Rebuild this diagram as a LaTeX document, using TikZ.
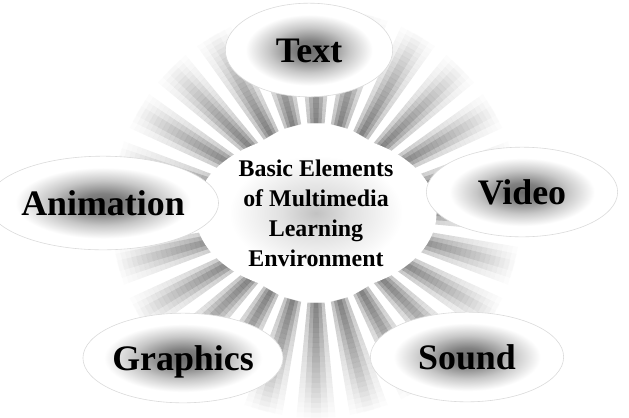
\documentclass[tikz,border=0pt]{standalone}
\usepackage{fontspec}
\setmainfont{Liberation Serif}
\usetikzlibrary{shapes.geometric}

% soft gray glow behind the labels
\pgfdeclareradialshading{glowshade}{\pgfpointorigin}{color(0bp)=(black!58); color(5bp)=(black!50); color(12bp)=(black!22); color(19bp)=(white); color(50bp)=(white)}
\pgfdeclareradialshading{hubshade}{\pgfpointorigin}{color(0bp)=(black!24); color(7bp)=(black!12); color(18bp)=(white); color(50bp)=(white)}

\tikzset{
  elem/.style={ellipse, inner sep=0pt, fill=white, draw=black!14, line width=0.6pt,
    font=\fontsize{36}{40}\selectfont\bfseries, text height=25bp, text depth=0pt,
    path picture={\shade[shading=glowshade] (path picture bounding box.center) ellipse [x radius=#1, y radius=44];}},
  hub/.style={ellipse, inner sep=0pt, fill=white, minimum width=242, minimum height=160,
    align=center, font=\fontsize{24}{30}\selectfont\bfseries,
    path picture={\shade[shading=hubshade] (path picture bounding box.center) ellipse [x radius=118, y radius=74];}},
  raylayer/.style={fill=black!70, opacity=#1}
}

\begin{document}
\begin{tikzpicture}[x=1bp, y=-1bp]
  \useasboundingbox (0,0) rectangle (629,417);

  % rays, fading out from the hub
  \begin{scope}[shift={(316,213)}]
    \foreach \a in {0,15,...,345} {
      \foreach \w in {1.5,3.5,5.5} {
        \foreach \r [evaluate=\r as \op using {0.32*(206-\r)/116}] in {90,95,...,200}
          \fill[raylayer=\op] (\a-\w:\r) -- (\a+\w:\r) -- (\a+\w:\r+5) -- (\a-\w:\r+5) -- cycle;
      }
    }
  \end{scope}

  % central ellipse
  \node[hub] (center) at (316,213) {Basic Elements\\of Multimedia\\Learning\\Environment};

  % elements
  \node[elem=72, minimum width=168, minimum height=94] (text) at (309,50) {Text};
  \node[elem=110, minimum width=196, minimum height=94] (animation) at (103,203) {Animation};
  \node[elem=80, minimum width=192, minimum height=90] (video) at (522,192) {Video};
  \node[elem=104, minimum width=194, minimum height=90] (graphics) at (183,358) {Graphics};
  \node[elem=86, minimum width=194, minimum height=90] (sound) at (467,357) {Sound};
\end{tikzpicture}
\end{document}
